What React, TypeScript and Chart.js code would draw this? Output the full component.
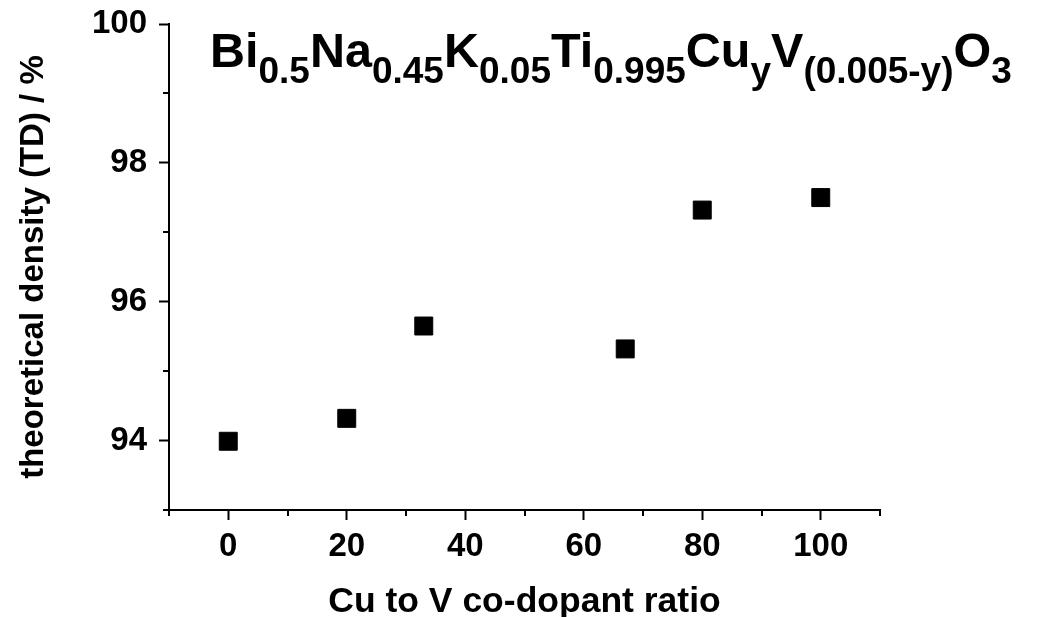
import React, { useEffect, useRef } from 'react';
import { Chart, registerables } from 'chart.js';

Chart.register(...registerables);

// ---- data ----
const ratioValues = [0, 20, 33, 67, 80, 100];
const densityValues = [93.99, 94.32, 95.65, 95.32, 97.32, 97.5];

const xMajorTicks = [0, 20, 40, 60, 80, 100];
const xMinorTicks = [-10, 10, 30, 50, 70, 90, 110];
const yMajorTicks = [94, 96, 98, 100];
const yMinorTicks = [93, 95, 97, 99];

const xTitle = 'Cu to V co-dopant ratio';
const yTitle = 'theoretical density (TD) / %';
const formulaMain = ['Bi', 'Na', 'K', 'Ti', 'Cu', 'V', 'O'];
const formulaSub = ['0.5', '0.45', '0.05', '0.995', 'y', '(0.005-y)', '3'];

const FONT = '"Liberation Sans", Arial, sans-serif';

const minorTickPlugin = {
  id: 'minorTicks',
  afterDraw(chart: any) {
    const { ctx, scales } = chart;
    const xs = scales.x;
    const ys = scales.y;
    ctx.save();
    ctx.strokeStyle = '#000';
    ctx.lineWidth = 2;
    ctx.beginPath();
    for (const v of xMinorTicks) {
      const px = Math.round(xs.getPixelForValue(v));
      ctx.moveTo(px, xs.top);
      ctx.lineTo(px, xs.top + 6);
    }
    for (const v of yMinorTicks) {
      const py = Math.round(ys.getPixelForValue(v));
      ctx.moveTo(ys.right, py);
      ctx.lineTo(ys.right - 6, py);
    }
    ctx.stroke();
    ctx.restore();
  },
};

const formulaPlugin = {
  id: 'formulaTitle',
  afterDraw(chart: any) {
    const { ctx, chartArea } = chart;
    ctx.save();
    ctx.fillStyle = '#000';
    ctx.textBaseline = 'alphabetic';
    ctx.textAlign = 'left';
    let x = chartArea.left + 41;
    const base = chartArea.top + 43;
    formulaMain.forEach((main, i) => {
      ctx.font = `bold 48.5px ${FONT}`;
      ctx.fillText(main, x, base);
      x += ctx.measureText(main).width;
      const sub = formulaSub[i];
      ctx.font = `bold 37px ${FONT}`;
      ctx.fillText(sub, x, base + 16);
      x += ctx.measureText(sub).width;
    });
    ctx.restore();
  },
};

export default function App() {
  const canvasRef = useRef<HTMLCanvasElement | null>(null);

  useEffect(() => {
    if (!canvasRef.current) return;
    const chart = new Chart(canvasRef.current, {
      type: 'scatter',
      data: {
        datasets: [
          {
            data: ratioValues.map((x, i) => ({ x, y: densityValues[i] })),
            showLine: false,
            pointStyle: 'rect',
            pointRadius: 12.7,
            pointHoverRadius: 12.7,
            backgroundColor: '#000',
            borderColor: '#000',
            borderWidth: 1,
          },
        ],
      },
      options: {
        responsive: false,
        animation: false,
        layout: { padding: { left: 0, top: 24, right: 159, bottom: 0 } },
        plugins: {
          legend: { display: false },
          tooltip: { enabled: false },
        },
        scales: {
          x: {
            type: 'linear',
            min: -10,
            max: 110,
            afterBuildTicks: (s: any) => {
              s.ticks = xMajorTicks.map((v) => ({ value: v }));
            },
            afterFit: (s: any) => {
              s.height = 107;
              s.paddingLeft = 0;
              s.paddingRight = 0;
            },
            border: { display: true, color: '#000', width: 2 },
            grid: {
              display: true,
              drawOnChartArea: false,
              drawTicks: true,
              tickLength: 10,
              tickWidth: 2,
              tickColor: '#000',
              color: '#000',
            },
            ticks: {
              color: '#000',
              font: { family: FONT, size: 33, weight: 'bold' },
              padding: 7,
              maxRotation: 0,
              autoSkip: false,
            },
            title: {
              display: true,
              text: xTitle,
              color: '#000',
              font: { family: FONT, size: 35.5, weight: 'bold', lineHeight: 1 },
              padding: { top: 0, bottom: -3 },
            },
          },
          y: {
            type: 'linear',
            min: 93,
            max: 100,
            afterBuildTicks: (s: any) => {
              s.ticks = yMajorTicks.map((v) => ({ value: v }));
            },
            afterFit: (s: any) => {
              s.width = 169;
              s.paddingTop = 0;
              s.paddingBottom = 0;
            },
            border: { display: true, color: '#000', width: 2 },
            grid: {
              display: true,
              drawOnChartArea: false,
              drawTicks: true,
              tickLength: 10,
              tickWidth: 2,
              tickColor: '#000',
              color: '#000',
            },
            ticks: {
              color: '#000',
              font: { family: FONT, size: 33, weight: 'bold' },
              padding: 12,
              autoSkip: false,
            },
            title: {
              display: true,
              text: yTitle,
              color: '#000',
              font: { family: FONT, size: 33, weight: 'bold', lineHeight: 1 },
              padding: { top: 17.5, bottom: 0 },
            },
          },
        },
      },
      plugins: [minorTickPlugin, formulaPlugin],
    } as any);
    return () => chart.destroy();
  }, []);

  return (
    <div style={{ position: 'absolute', left: 0, top: 0, width: 1039, height: 617, background: '#fff' }}>
      <canvas ref={canvasRef} width={1039} height={617} style={{ display: 'block' }} />
    </div>
  );
}
